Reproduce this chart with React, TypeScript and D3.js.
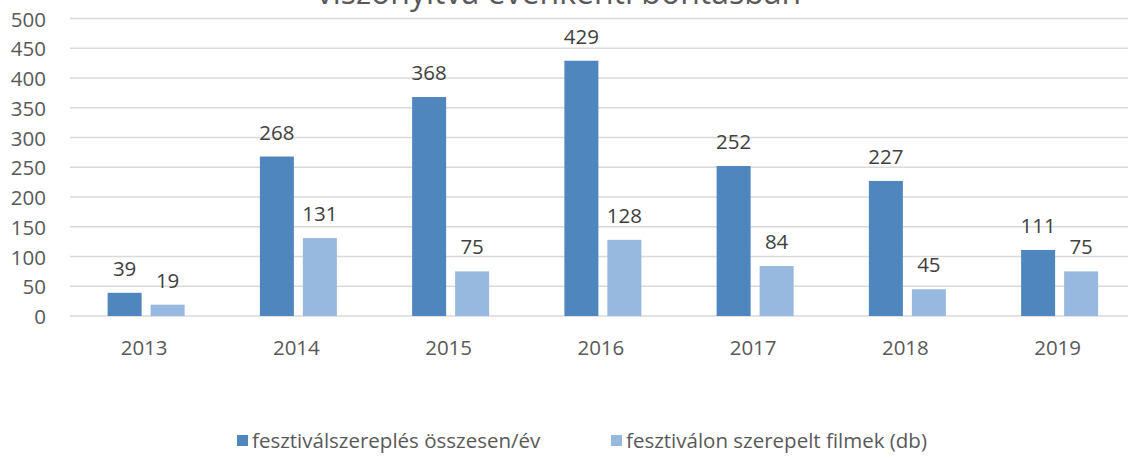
import React from "react";
import * as d3 from "d3";

// years on the x axis
const years = ["2013", "2014", "2015", "2016", "2017", "2018", "2019"];
// festival appearances per year
const appearances = [39, 268, 368, 429, 252, 227, 111];
// films shown at festivals (db)
const films = [19, 131, 75, 128, 84, 45, 75];
const seriesNames = ["fesztiválszereplés összesen/év", "fesztiválon szerepelt filmek (db)"];
const colors = ["#4f86bd", "#97b9df"];
const yTicks = [0, 50, 100, 150, 200, 250, 300, 350, 400, 450, 500];
const title = "viszonyítva évenkénti bontásban";

const W = 1128;
const H = 458;
const font = "'Open Sans', Lato, sans-serif";
const fs = 20.5;

const App = () => {
    // x band per year, right side runs a bit past the picture edge
    const x = d3.scaleBand().domain(years).range([70, 70 + 7 * 152.25]).padding(0);
    const y = d3.scaleLinear().domain([0, 500]).range([316, 18.5]);

    const barW = 34;
    const gap = 9;

    const rows = years.map((yr, i) => ({ yr, values: [appearances[i], films[i]] }));

    return (
        <svg width={W} height={H} style={{ position: "absolute", left: 0, top: 0, background: "#fff" }}>
            <text x={559} y={4} textAnchor="middle" fontFamily={font} fontSize={32} fill="#595959">
                {title}
            </text>

            {/* gridlines and y tick labels */}
            {yTicks.map((t) => (
                <g key={t}>
                    <line x1={70} x2={W} y1={y(t)} y2={y(t)} stroke="#d9d9d9" strokeWidth={1.3} />
                    <text
                        x={46}
                        y={y(t)}
                        textAnchor="end"
                        dominantBaseline="central"
                        fontFamily={font}
                        fontSize={fs}
                        fill="#595959"
                    >
                        {t}
                    </text>
                </g>
            ))}

            {rows.map((r) => {
                const cx = (x(r.yr) as number) + x.bandwidth() / 2;
                return (
                    <g key={r.yr}>
                        {r.values.map((v, s) => {
                            const bx = s === 0 ? cx - gap / 2 - barW : cx + gap / 2;
                            return (
                                <g key={s}>
                                    <rect x={bx} y={y(v)} width={barW} height={y(0) - y(v)} fill={colors[s]} />
                                    <text
                                        x={bx + barW / 2}
                                        y={y(v) - 17}
                                        textAnchor="middle"
                                        fontFamily={font}
                                        fontSize={fs}
                                        fill="#404040"
                                    >
                                        {v}
                                    </text>
                                </g>
                            );
                        })}
                        <text
                            x={cx - 2}
                            y={355}
                            textAnchor="middle"
                            fontFamily={font}
                            fontSize={fs}
                            fill="#595959"
                        >
                            {r.yr}
                        </text>
                    </g>
                );
            })}

            {/* legend */}
            {seriesNames.map((name, i) => {
                const lx = i === 0 ? 237 : 611;
                return (
                    <g key={name}>
                        <rect x={lx} y={435} width={11} height={11} fill={colors[i]} />
                        <text x={lx + 15} y={448} fontFamily={font} fontSize={fs} fill="#595959">
                            {name}
                        </text>
                    </g>
                );
            })}
        </svg>
    );
};

export default App;
